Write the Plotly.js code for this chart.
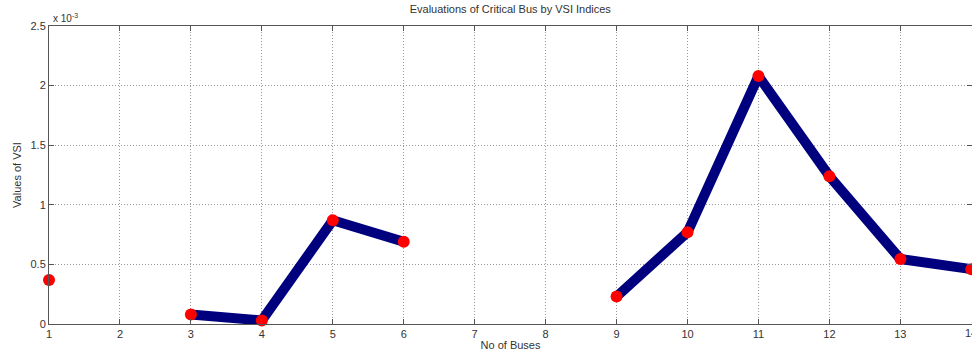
<!DOCTYPE html>
<html><head><meta charset="utf-8">
<script src="https://cdn.plot.ly/plotly-3.0.1.min.js"></script>
<style>html,body{margin:0;padding:0;background:#fff;}#chart{width:972px;height:356px;}</style>
</head><body><div id="chart"></div>
<script>
const buses = [1,2,3,4,5,6,7,8,9,10,11,12,13,14];
const vsi = [0.37,null,0.08,0.03,0.87,0.69,null,null,0.23,0.77,2.08,1.24,0.545,0.46]; // x 10^-3
const yTicks = [0,0.5,1,1.5,2,2.5];
const yTickText = ['0','0.5','1','1.5','2','2.5'];
const FONT = 'Liberation Sans, Arial, sans-serif';

const trace = {
  x: buses, y: vsi, type: 'scatter', mode: 'lines+markers',
  connectgaps: false,
  line: {color: '#00007f', width: 10},
  marker: {color: '#ff0000', size: 12, line: {width: 0}},
  hoverinfo: 'none', cliponaxis: false
};
const axisCommon = {
  showline: true, linecolor: '#555', linewidth: 1, mirror: 'ticks',
  ticks: 'inside', ticklen: 5, tickcolor: '#555',
  showgrid: true, gridcolor: '#999', griddash: '1px,2px', gridwidth: 1,
  zeroline: false, tickfont: {family: FONT, size: 11, color: '#333'}
};
const layout = {
  width: 972, height: 356,
  margin: {l: 49, r: 0, t: 26, b: 32},
  paper_bgcolor: '#fff', plot_bgcolor: '#fff',
  showlegend: false,
  title: {text: 'Evaluations of Critical Bus by VSI Indices', font: {family: FONT, size: 11, color: '#333'}, x: 0.525, xanchor: 'center', y: 0.985, yanchor: 'top'},
  xaxis: Object.assign({}, axisCommon, {range: [1, 14.01], tickvals: buses.slice(0, 13), ticktext: buses.slice(0, 13).map(String), ticklabelstandoff: 0,
    title: {text: 'No of Buses', standoff: 2, font: {family: FONT, size: 11, color: '#333'}}}),
  yaxis: Object.assign({}, axisCommon, {range: [0, 2.5], tickvals: yTicks, ticktext: yTickText,
    title: {text: 'Values of VSI', standoff: 6, font: {family: FONT, size: 11, color: '#333'}}}),
  annotations: [{
    xref: 'paper', yref: 'paper', x: 0.002, y: 1.0, xanchor: 'left', yanchor: 'bottom', showarrow: false,
    text: 'x 10<sup>-3</sup>', font: {family: FONT, size: 10, color: '#333'}
  }, {
    xref: 'x', yref: 'paper', x: buses[13], y: 0, xanchor: 'center', yanchor: 'top', yshift: -1, showarrow: false,
    text: String(buses[13]), font: {family: FONT, size: 11, color: '#333'}
  }]
};
Plotly.newPlot('chart', [trace], layout, {displayModeBar: false, staticPlot: true});
</script></body></html>
